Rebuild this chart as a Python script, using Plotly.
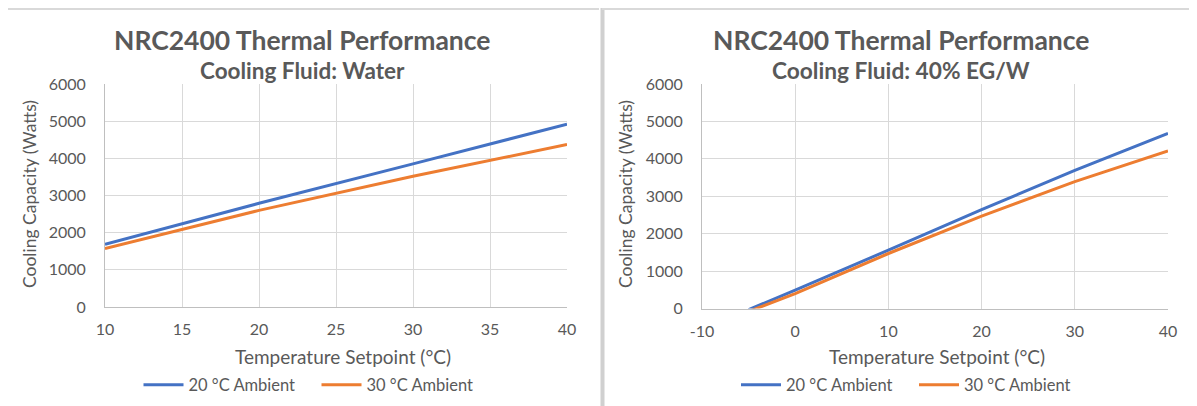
import plotly.graph_objects as go

# The page body adds an 8px margin, so the figure is sized to fit the window
# and every position below is given in window pixels, then shifted by OFF.
WIN_W, WIN_H = 1197, 406
OFF = 8
W, H = WIN_W - OFF, WIN_H - OFF
FONT = "Lato"
TXT = "#595959"
BLUE = "#4472C4"
ORANGE = "#ED7D31"
GRID = "#D9D9D9"
AXIS = "#BFBFBF"

# ---- data ----
water_setpoint = [10, 20, 30, 40]
water_20amb = [1690, 2790, 3850, 4920]
water_30amb = [1570, 2600, 3520, 4370]

eg_setpoint = [-5, 0, 10, 20, 30, 40]
eg_20amb = [-30, 490, 1560, 2640, 3690, 4680]
eg_30amb = [-80, 400, 1470, 2470, 3390, 4210]

eg_tickvals = [-10, 0, 10, 20, 30, 40]
eg_ticktext = ["-10", "0", "10", "20", "30", "40"]

series_names = ["20 °C Ambient", "30 °C Ambient"]
titles = ["NRC2400 Thermal Performance", "NRC2400 Thermal Performance"]
subtitles = ["Cooling Fluid: Water", "Cooling Fluid: 40% EG/W"]
x_title = "Temperature Setpoint (°C)"
y_title = "Cooling Capacity (Watts)"


def px(x):
    return (x - OFF) / W


def py(y):
    return 1 - (y - OFF) / H


fig = go.Figure()
fig.add_trace(go.Scatter(x=water_setpoint, y=water_20amb, name=series_names[0], mode="lines",
                         line=dict(color=BLUE, width=3), xaxis="x", yaxis="y", legend="legend"))
fig.add_trace(go.Scatter(x=water_setpoint, y=water_30amb, name=series_names[1], mode="lines",
                         line=dict(color=ORANGE, width=3), xaxis="x", yaxis="y", legend="legend"))
fig.add_trace(go.Scatter(x=eg_setpoint, y=eg_20amb, name=series_names[0], mode="lines",
                         line=dict(color=BLUE, width=3), xaxis="x2", yaxis="y2", legend="legend2"))
fig.add_trace(go.Scatter(x=eg_setpoint, y=eg_30amb, name=series_names[1], mode="lines",
                         line=dict(color=ORANGE, width=3), xaxis="x2", yaxis="y2", legend="legend2"))

common_x = dict(showgrid=True, gridcolor=GRID, gridwidth=1, showline=True, linecolor=AXIS, linewidth=1,
                zeroline=False, ticks="", tickfont=dict(family=FONT, size=16, color=TXT),
                ticklabelstandoff=8, fixedrange=True, automargin=False)
common_y = dict(showgrid=True, gridcolor=GRID, gridwidth=1, showline=True, linecolor=AXIS, linewidth=1,
                zeroline=False, ticks="", tickfont=dict(family=FONT, size=16, color=TXT),
                range=[0, 6000], dtick=1000, ticklabelstandoff=15, fixedrange=True, automargin=False)

legend_common = dict(orientation="h", yanchor="middle", xanchor="left",
                     font=dict(family=FONT, size=16.5, color=TXT), bgcolor="rgba(0,0,0,0)",
                     itemwidth=40, entrywidth=123, entrywidthmode="pixels")

fig.update_layout(
    width=W, height=H,
    margin=dict(l=0, r=0, t=0, b=0, pad=0, autoexpand=False),
    paper_bgcolor="white", plot_bgcolor="white",
    xaxis=dict(domain=[px(105), px(567)], range=[10, 40], dtick=5, anchor="y", **common_x),
    yaxis=dict(domain=[py(307), py(84)], anchor="x", **common_y),
    xaxis2=dict(domain=[px(702), px(1168)], range=[-10, 40], tickvals=eg_tickvals, ticktext=eg_ticktext,
                anchor="y2", **common_x),
    yaxis2=dict(domain=[py(308.5), py(84)], anchor="x2", **common_y),
    legend=dict(x=px(138.5), y=py(385), **legend_common),
    legend2=dict(x=px(736), y=py(385), **legend_common),
    showlegend=True,
)

ann = []
for cx, t, s, ycx, ssize in [(302.5, titles[0], subtitles[0], 29, 22.5),
                             (901, titles[1], subtitles[1], 625, 22.7)]:
    ann.append(dict(text="<b>" + t + "</b>", x=px(cx), y=py(40), xref="paper", yref="paper",
                    showarrow=False, xanchor="center", yanchor="middle",
                    font=dict(family=FONT, size=26.5, color=TXT)))
    ann.append(dict(text="<b>" + s + "</b>", x=px(cx), y=py(71), xref="paper", yref="paper",
                    showarrow=False, xanchor="center", yanchor="middle",
                    font=dict(family=FONT, size=ssize, color=TXT)))
    ann.append(dict(text=y_title, x=px(ycx), y=py(194), xref="paper", yref="paper", textangle=-90,
                    showarrow=False, xanchor="center", yanchor="middle",
                    font=dict(family=FONT, size=17.5, color=TXT)))
ann.append(dict(text=x_title, x=px(343), y=py(356), xref="paper", yref="paper", showarrow=False,
                xanchor="center", yanchor="middle", font=dict(family=FONT, size=19, color=TXT)))
ann.append(dict(text=x_title, x=px(937), y=py(356), xref="paper", yref="paper", showarrow=False,
                xanchor="center", yanchor="middle", font=dict(family=FONT, size=19, color=TXT)))
fig.update_layout(annotations=ann)

shapes = [
    # left panel top edge
    dict(type="line", xref="paper", yref="paper", x0=px(8), x1=px(599), y0=py(9), y1=py(9),
         line=dict(color=GRID, width=2)),
    # right panel border
    dict(type="line", xref="paper", yref="paper", x0=px(602.5), x1=px(602.5), y0=py(8), y1=py(WIN_H),
         line=dict(color="#D0D0D0", width=4)),
    dict(type="line", xref="paper", yref="paper", x0=px(602), x1=px(WIN_W), y0=py(9), y1=py(9),
         line=dict(color=GRID, width=2)),
]
fig.update_layout(shapes=shapes)

fig.write_html("out.html")
